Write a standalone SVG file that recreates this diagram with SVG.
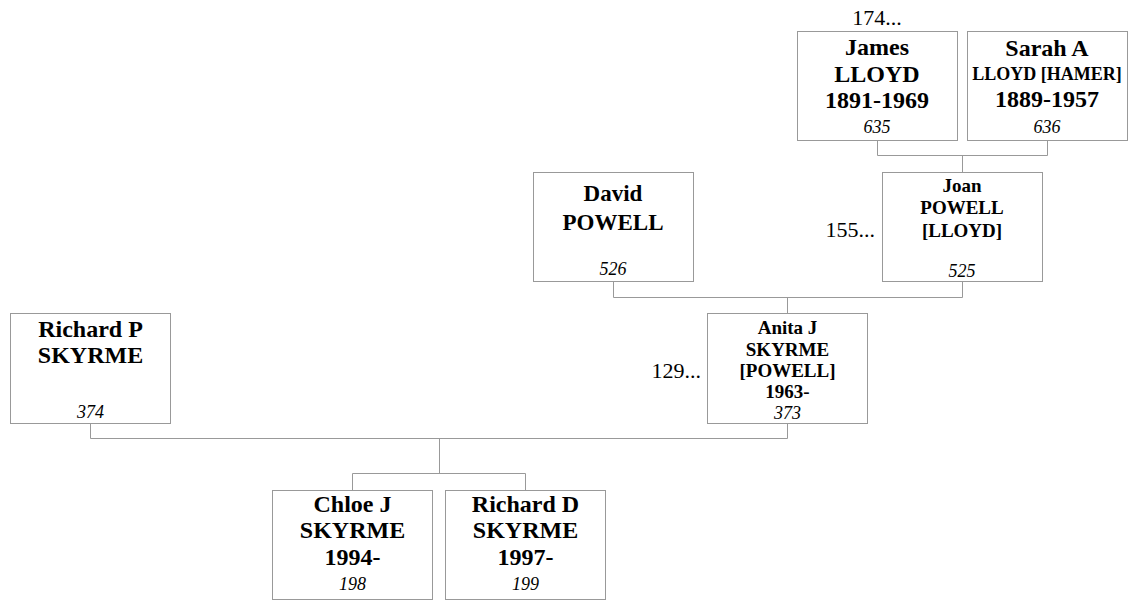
<svg xmlns="http://www.w3.org/2000/svg" width="1135" height="601" viewBox="0 0 1135 601">
<style>
.box{fill:#fff;stroke:#999;stroke-width:1}
.con{fill:none;stroke:#999;stroke-width:1}
text{font-family:"Liberation Serif","Times New Roman",serif;fill:#000;text-anchor:middle}
.b{font-weight:bold;font-size:24px}
.s{font-weight:bold;font-size:19px}
.xs{font-weight:bold;font-size:18px}
.n{font-style:italic;font-size:18px}
.side{font-size:22px}
</style>
<rect width="1135" height="601" fill="#fff"/>
<g id="connectors">
<path class="con" d="M877.5 140.5V155.5H1047.5V140.5M962.5 155.5V172.5"/>
<path class="con" d="M613.5 281.5V297.5H962.5V281.5M787.5 297.5V313.5"/>
<path class="con" d="M90.5 423.5V438.5H787.5V423.5M439.5 438.5V473.5"/>
<path class="con" d="M352.5 490.5V473.5H525.5V490.5"/>
</g>
<g id="james">
<text class="side" x="877" y="25">174...</text>
<rect class="box" x="797.5" y="31.5" width="160" height="109"/>
<text class="b" x="877" y="55">James</text>
<text class="b" x="877" y="81.5">LLOYD</text>
<text class="b" x="877" y="108">1891-1969</text>
<text class="n" x="877" y="133">635</text>
</g>
<g id="sarah">
<rect class="box" x="967.5" y="31.5" width="160" height="109"/>
<text class="b" x="1047" y="56">Sarah A</text>
<text class="xs" x="1047" y="80">LLOYD [HAMER]</text>
<text class="b" x="1047" y="106.5">1889-1957</text>
<text class="n" x="1047" y="133">636</text>
</g>
<g id="david">
<rect class="box" x="533.5" y="172.5" width="160" height="109"/>
<text class="b" x="613" y="200.5" style="font-size:23px">David</text>
<text class="b" x="613" y="230" style="font-size:23px">POWELL</text>
<text class="n" x="613" y="275">526</text>
</g>
<g id="joan">
<text class="side" x="875" y="236.5" style="text-anchor:end">155...</text>
<rect class="box" x="882.5" y="172.5" width="160" height="109"/>
<text class="s" x="962" y="191.5">Joan</text>
<text class="s" x="962" y="214">POWELL</text>
<text class="s" x="962" y="236.5">[LLOYD]</text>
<text class="n" x="962" y="276.5">525</text>
</g>
<g id="richardp">
<rect class="box" x="10.5" y="313.5" width="160" height="110"/>
<text class="b" x="90.5" y="336.5">Richard P</text>
<text class="b" x="90.5" y="363">SKYRME</text>
<text class="n" x="90.5" y="418">374</text>
</g>
<g id="anita">
<text class="side" x="701" y="378" style="text-anchor:end">129...</text>
<rect class="box" x="707.5" y="313.5" width="160" height="110"/>
<text class="s" x="787.5" y="334">Anita J</text>
<text class="s" x="787.5" y="356">SKYRME</text>
<text class="s" x="787.5" y="377">[POWELL]</text>
<text class="s" x="787.5" y="398">1963-</text>
<text class="n" x="787.5" y="419">373</text>
</g>
<g id="chloe">
<rect class="box" x="272.5" y="490.5" width="160" height="109"/>
<text class="b" x="352.5" y="511.5">Chloe J</text>
<text class="b" x="352.5" y="538">SKYRME</text>
<text class="b" x="352.5" y="565">1994-</text>
<text class="n" x="352.5" y="590">198</text>
</g>
<g id="richardd">
<rect class="box" x="445.5" y="490.5" width="160" height="109"/>
<text class="b" x="525.5" y="511.5">Richard D</text>
<text class="b" x="525.5" y="538">SKYRME</text>
<text class="b" x="525.5" y="565">1997-</text>
<text class="n" x="525.5" y="590">199</text>
</g>
</svg>
